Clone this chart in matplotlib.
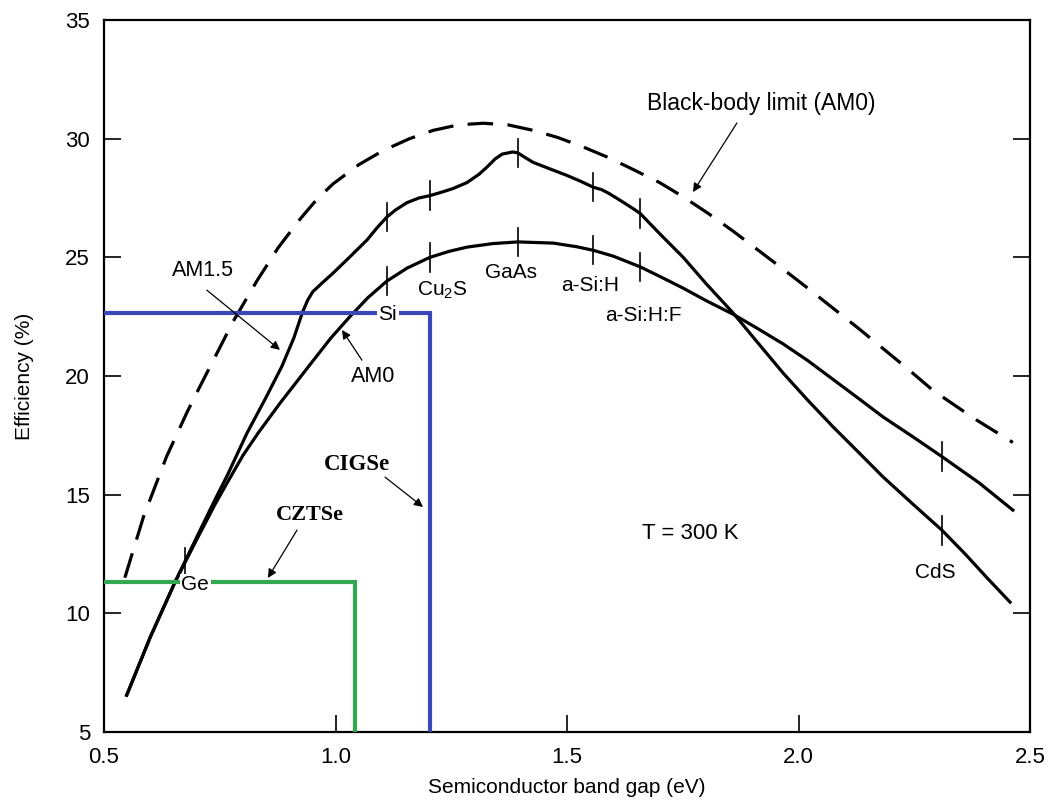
import matplotlib
matplotlib.use("Agg")
import matplotlib.pyplot as plt
import numpy as np

plt.rcParams['font.family'] = ['Liberation Sans', 'DejaVu Sans']
plt.rcParams['mathtext.fontset'] = 'custom'
plt.rcParams['mathtext.rm'] = 'Liberation Sans'

# black-body limit (AM0), dashed
bb_x = [0.545, 0.585, 0.635, 0.68, 0.707, 0.745, 0.779, 0.83, 0.876, 0.923, 0.96,
        0.995, 1.05, 1.103, 1.16, 1.211, 1.265, 1.319, 1.373, 1.427, 1.48, 1.535,
        1.59, 1.643, 1.70, 1.751, 1.805, 1.859, 1.913, 1.967, 2.02, 2.075, 2.13,
        2.183, 2.236, 2.29, 2.38, 2.463]
bb_y = [11.5, 14.05, 16.6, 18.5, 19.55, 21.0, 22.3, 24.0, 25.4, 26.6, 27.45,
        28.1, 28.9, 29.5, 30.0, 30.35, 30.58, 30.65, 30.58, 30.35, 30.05, 29.65,
        29.2, 28.7, 28.15, 27.55, 26.85, 26.1, 25.3, 24.5, 23.7, 22.85, 22.0,
        21.15, 20.3, 19.4, 18.2, 17.2]

# AM1.5 curve
am15_x = [0.549, 0.60, 0.653, 0.70, 0.74, 0.766, 0.809, 0.85, 0.884, 0.91, 0.928,
          0.94, 0.951, 0.97, 0.995, 1.03, 1.068, 1.09, 1.111, 1.13, 1.154, 1.18,
          1.204, 1.23, 1.254, 1.284, 1.31, 1.327, 1.345, 1.36, 1.383, 1.394, 1.41,
          1.427, 1.46, 1.5, 1.53, 1.556, 1.575, 1.59, 1.615, 1.643, 1.658, 1.70,
          1.751, 1.80, 1.859, 1.91, 1.967, 2.02, 2.075, 2.13, 2.183, 2.25, 2.31,
          2.36, 2.407, 2.457]
am15_y = [6.55, 9.0, 11.3, 13.2, 14.8, 15.8, 17.6, 19.1, 20.4, 21.6, 22.65,
          23.2, 23.55, 23.9, 24.34, 25.0, 25.73, 26.25, 26.7, 27.0, 27.3, 27.5,
          27.6, 27.75, 27.9, 28.15, 28.5, 28.8, 29.15, 29.35, 29.44, 29.4, 29.2,
          29.0, 28.75, 28.45, 28.2, 27.96, 27.85, 27.7, 27.4, 27.05, 26.85, 26.0,
          25.0, 23.9, 22.65, 21.45, 20.12, 18.98, 17.85, 16.78, 15.74, 14.55, 13.5,
          12.5, 11.5, 10.47]

# AM0 curve
am0_x = [0.549, 0.60, 0.653, 0.70, 0.74, 0.766, 0.80, 0.833, 0.88, 0.941, 0.99,
         1.031, 1.07, 1.111, 1.155, 1.204, 1.245, 1.284, 1.34, 1.394, 1.47, 1.52,
         1.556, 1.60, 1.658, 1.70, 1.751, 1.80, 1.859, 1.91, 1.967, 2.02, 2.075,
         2.13, 2.183, 2.25, 2.31, 2.39, 2.463]
am0_y = [6.55, 9.0, 11.3, 13.1, 14.6, 15.5, 16.65, 17.6, 18.85, 20.38, 21.6,
         22.5, 23.3, 24.0, 24.55, 25.0, 25.25, 25.43, 25.58, 25.65, 25.6, 25.45,
         25.3, 25.05, 24.6, 24.2, 23.7, 23.18, 22.6, 22.02, 21.35, 20.65, 19.85,
         19.05, 18.27, 17.4, 16.6, 15.5, 14.35]

# materials marked on the curves
mat_names = ['Ge', 'Si', 'Cu$_{\\mathrm{2}}$S', 'GaAs', 'a-Si:H', 'a-Si:H:F', 'CdS']
mat_gap = [0.675, 1.111, 1.204, 1.394, 1.556, 1.658, 2.31]
mat_lab_x = [0.697, 1.113, 1.23, 1.379, 1.55, 1.666, 2.295]
mat_lab_y = [11.2, 22.6, 23.62, 24.34, 23.83, 22.57, 11.7]

# record cells (band gap, efficiency)
cigse = (1.204, 22.65)
czts = (1.042, 11.3)

fig = plt.figure(figsize=(10.49, 8.0), dpi=100)
ax = fig.add_axes([104 / 1049, 68 / 800, 926 / 1049, 712 / 800])

ax.plot(bb_x, bb_y, color='black', lw=2.3, dashes=[8, 4.5], solid_capstyle='butt')
ax.plot(am15_x, am15_y, color='black', lw=2.3, solid_joinstyle='round')
ax.plot(am0_x, am0_y, color='black', lw=2.3, solid_joinstyle='round')

# little vertical marks on the curves
for i, g in enumerate(mat_gap):
    if i == 0:
        curves = [(am0_x, am0_y)]
    else:
        curves = [(am15_x, am15_y), (am0_x, am0_y)]
    for cx, cy in curves:
        yc = np.interp(g, cx, cy)
        ax.plot([g, g], [yc - 0.6, yc + 0.6], color='black', lw=1.2)

# record rectangles
ax.plot([0.5, cigse[0], cigse[0]], [cigse[1], cigse[1], 5], color='#3a47b6', lw=3,
        solid_joinstyle='miter', zorder=3)
ax.plot([0.5, czts[0], czts[0]], [czts[1], czts[1], 5], color='#33a852', lw=3,
        solid_joinstyle='miter', zorder=3)

for i, name in enumerate(mat_names):
    bbox = None
    if name in ('Ge', 'Si'):
        bbox = dict(facecolor='white', edgecolor='none', pad=1)
    ax.text(mat_lab_x[i], mat_lab_y[i], name, fontsize=15, ha='center', va='center',
            bbox=bbox, zorder=4)

ax.text(1.766, 13.38, 'T = 300 K', fontsize=16, ha='center', va='center')

arrow = dict(arrowstyle='-|>', color='black', lw=0.9, mutation_scale=13,
             shrinkA=0, shrinkB=0)
ax.text(1.919, 31.5, 'Black-body limit (AM0)', fontsize=16.5, ha='center', va='center')
ax.annotate('', xy=(1.772, 27.75), xytext=(1.867, 30.66), arrowprops=arrow)
ax.text(0.714, 24.46, 'AM1.5', fontsize=15.5, ha='center', va='center')
ax.annotate('', xy=(0.880, 21.1), xytext=(0.722, 23.62), arrowprops=arrow)
ax.text(1.081, 19.96, 'AM0', fontsize=15.5, ha='center', va='center')
ax.annotate('', xy=(1.014, 21.94), xytext=(1.057, 20.67), arrowprops=arrow)

ax.text(1.046, 16.25, 'CIGSe', fontsize=16.5, ha='center', va='center',
        family='Liberation Serif', weight='bold')
ax.annotate('', xy=(1.189, 14.48), xytext=(1.107, 15.74), arrowprops=arrow)
ax.text(0.945, 14.14, 'CZTSe', fontsize=16, ha='center', va='center',
        family='Liberation Serif', weight='bold')
ax.annotate('', xy=(0.854, 11.49), xytext=(0.917, 13.51), arrowprops=arrow)

ax.set_xlim(0.5, 2.5)
ax.set_ylim(5, 35)
ax.set_xticks([0.5, 1.0, 1.5, 2.0, 2.5])
ax.set_xticklabels(['0.5', '1.0', '1.5', '2.0', '2.5'])
ax.set_yticks([5, 10, 15, 20, 25, 30, 35])
ax.tick_params(axis='x', direction='in', length=12, width=1.2, pad=11, labelsize=16,
               top=False)
ax.tick_params(axis='y', direction='in', length=12, width=1.2, pad=10, labelsize=16,
               right=True)
for s in ax.spines.values():
    s.set_linewidth(1.6)

ax.set_xlabel('Semiconductor band gap (eV)', fontsize=15)
ax.set_ylabel('Efficiency (%)', fontsize=15)
ax.xaxis.set_label_coords(0.5, -0.064)
ax.yaxis.set_label_coords(-0.076, 0.5)

fig.savefig('out.png', dpi=100)
